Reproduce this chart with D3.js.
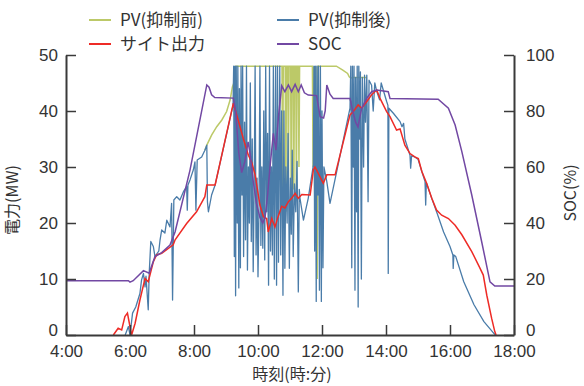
<!DOCTYPE html>
<html>
<head>
<meta charset="utf-8">
<script src="https://cdn.jsdelivr.net/npm/d3@7"></script>
<style>
  body { margin: 0; background: #fff; }
  svg { font-family: "Noto Sans CJK JP", "Noto Sans", sans-serif; }
  .tick text { font-size: 17px; fill: #333; }
</style>
</head>
<body>
<div id="chart"></div>
<script>
// [hour, value]
const pvBefore = [
  [8.34, 33.0], [8.4, 33.9], [8.55, 35.7], [8.71, 37.2], [8.87, 38.4], [9.02, 39.9], [9.13, 42], [9.2, 44.3],
  [9.26, 45.2], [9.3, 48], [10.75, 48], [10.77, 25], [10.79, 48], [10.85, 48], [10.87, 22], [10.89, 48],
  [10.93, 48], [10.95, 28], [10.97, 48], [11.02, 48], [11.04, 20], [11.06, 48], [11.1, 48], [11.12, 26],
  [11.14, 48], [11.18, 48], [11.2, 24], [11.22, 48], [11.26, 48], [11.28, 30], [11.3, 48], [11.7, 48],
  [11.72, 30], [11.74, 48], [11.78, 20], [11.8, 48], [11.85, 10], [11.87, 48], [12.45, 48], [12.65, 47.3],
  [12.8, 46.7], [12.85, 46.1], [12.9, 45.9], [13.0, 46], [13.4, 46]
];

const pvAfter = [
  [5.85, 0], [5.95, 1.5], [6.0, 0], [6.08, 3.9], [6.18, 5], [6.31, 7.4], [6.36, 9.8], [6.42, 11], [6.47, 8.6],
  [6.5, 10.5], [6.57, 4.5], [6.6, 11], [6.65, 16.7], [6.73, 15.8], [6.78, 14], [6.9, 15], [6.94, 17],
  [6.99, 18.75], [7.09, 18.2], [7.15, 20.5], [7.25, 19.3], [7.3, 23.5], [7.33, 6.25], [7.37, 24.1],
  [7.46, 24.7], [7.56, 24.1], [7.67, 25.6], [7.77, 26.5], [7.79, 22.3], [7.81, 26.8], [7.875, 27.7],
  [7.98, 29.5], [8.03, 30.9], [8.06, 22.3], [8.1, 31.25], [8.24, 31.8], [8.34, 33], [8.4, 33.9],
  [8.42, 23.8], [8.45, 22], [8.55, 25], [8.66, 26.8], [9.22, 41],
  [9.24, 48], [9.26, 14], [9.28, 48], [9.30, 7], [9.32, 48], [9.35, 20], [9.37, 48], [9.40, 8.4],
  [9.42, 44], [9.45, 12], [9.47, 48], [9.50, 25], [9.52, 48], [9.55, 14], [9.58, 38], [9.61, 17],
  [9.64, 48], [9.67, 11.6], [9.70, 30], [9.73, 20], [9.76, 45], [9.79, 16.7], [9.82, 35], [9.85, 11.3],
  [9.88, 26], [9.91, 48], [9.94, 14.3], [9.97, 28], [10.0, 10.4], [10.03, 22], [10.06, 48], [10.09, 16],
  [10.12, 30], [10.15, 15.5], [10.18, 40], [10.21, 13.4], [10.24, 48], [10.27, 22], [10.30, 36],
  [10.33, 8.9], [10.36, 48], [10.39, 15], [10.42, 30], [10.45, 14.3], [10.48, 48], [10.51, 10],
  [10.55, 48], [10.58, 8.9], [10.61, 48], [10.64, 13], [10.68, 48], [10.71, 14.3], [10.74, 40],
  [10.78, 7.1], [10.81, 40], [10.84, 11.9], [10.87, 30], [10.91, 20], [10.94, 36], [10.98, 11.9],
  [11.01, 28], [11.04, 18], [11.07, 33], [11.10, 14], [11.14, 27], [11.18, 22], [11.22, 31], [11.26, 7.7],
  [11.29, 26], [11.31, 24.5], [11.42, 20.5], [11.57, 24.4], [11.73, 30.4], [11.75, 48], [11.77, 15],
  [11.79, 48], [11.82, 6], [11.84, 48], [11.87, 25], [11.89, 48], [11.92, 8], [11.95, 48], [11.98, 6],
  [12.0, 40], [12.03, 12], [12.06, 30], [12.15, 27.4], [12.25, 23.5], [12.875, 40.5],
  [12.9, 48], [12.93, 12], [12.95, 48], [12.98, 30], [13.0, 48], [13.03, 8], [13.05, 46], [13.08, 22],
  [13.1, 48], [13.13, 5], [13.15, 48], [13.18, 35], [13.2, 47], [13.23, 10], [13.26, 46], [13.3, 30],
  [13.33, 46.4], [13.36, 38], [13.4, 46.4], [13.44, 23.8], [13.47, 45.5], [13.55, 44.6], [13.6, 40],
  [13.65, 45], [13.71, 43.5], [13.8, 42], [13.85, 45], [14.02, 41.7], [14.06, 41], [14.07, 11],
  [14.09, 40.5], [14.23, 39.6], [14.44, 38.1], [14.5, 37.2], [14.55, 37.8], [14.59, 35], [14.75, 32.1],
  [14.77, 29.8], [14.8, 32], [14.9, 31.8], [15.0, 31.4], [15.12, 29.2], [15.22, 27.4], [15.24, 23.2],
  [15.26, 27.2], [15.43, 24.4], [15.6, 21.7], [15.8, 18.4], [16.0, 15.8], [16.09, 14.3], [16.1, 11.9],
  [16.12, 14.3], [16.18, 14], [16.43, 9.5], [16.75, 5.4], [17.06, 2.4], [17.37, 0.3], [17.42, 0]
];

const siteOutput = [
  [5.48, 0], [5.63, 1.2], [5.74, 0.9], [5.84, 3.3], [5.92, 3.9], [5.98, 2.1], [6.05, 0],
  [6.16, 2.1], [6.31, 6.25], [6.47, 10.1], [6.57, 9.5], [6.73, 13.1], [6.83, 14.3], [6.99, 14.6],
  [7.35, 16.1], [7.41, 17], [7.77, 19.9], [8.08, 22], [8.34, 24.7], [8.4, 26.8], [8.66, 26.8],
  [9.23, 41.4], [9.38, 38.4], [9.54, 35.1], [9.7, 32.1], [9.8, 30.9], [9.91, 28.6], [10.06, 23.2],
  [10.17, 21.1], [10.27, 20.8], [10.32, 18.4], [10.43, 20.8], [10.53, 19.3], [10.62, 21], [10.74, 23],
  [10.84, 22.7], [10.95, 23.8], [11.05, 24.4], [11.16, 25.3], [11.26, 24.4], [11.37, 25.1], [11.63, 25],
  [11.73, 29.5], [11.78, 30], [11.88, 28.9], [12.04, 27.1], [12.15, 28.6], [12.41, 28.6], [12.875, 39.3],
  [12.98, 39.9], [13.13, 41.1], [13.24, 40.5], [13.4, 41.7], [13.55, 42.9], [13.71, 43.75], [13.81, 42.3],
  [14.02, 39.9], [14.125, 39], [14.33, 36.6], [14.44, 36.8], [14.59, 33.9], [14.75, 32.4], [14.9, 31.8],
  [15.01, 31.5], [15.12, 29.2], [15.27, 27.1], [15.43, 24.4], [15.58, 22.3], [15.74, 21.4], [15.95, 20.8],
  [16.16, 19.6], [16.37, 17.9], [16.68, 14.9], [16.94, 11.9], [17.04, 10.7], [17.15, 7.1], [17.3, 3.0],
  [17.4, 0.6], [17.44, 0]
];

const soc = [
  [4.0, 19.4], [5.95, 19.4], [6.0, 18.9], [6.1, 19.4], [6.42, 23.0], [6.6, 22.1], [6.78, 28.0],
  [6.99, 29.4], [7.25, 32.1], [7.41, 36.9], [7.875, 58.9], [8.4, 89.3], [8.47, 88.5], [8.55, 85.8],
  [8.65, 84.8], [9.23, 84.6], [9.3, 80], [9.4, 65], [9.49, 58], [9.59, 62], [9.69, 69], [9.75, 65],
  [9.85, 55], [9.95, 47], [10.06, 42], [10.15, 40], [10.22, 42], [10.3, 50], [10.375, 60], [10.48, 72],
  [10.56, 66], [10.64, 78], [10.74, 89], [10.84, 86.9], [10.95, 89.3], [11.05, 86.9], [11.16, 89.5],
  [11.26, 86.9], [11.35, 89.3], [11.45, 86.5], [11.57, 85.7], [11.83, 85.5], [11.94, 78], [12.05, 77.5],
  [12.1, 80], [12.15, 89.3], [12.25, 86], [12.35, 84.5], [12.875, 84.5], [12.97, 79.6], [13.05, 76],
  [13.125, 74.3], [13.24, 81], [13.4, 84.6], [13.55, 86.9], [13.71, 87.5], [14.07, 86.9], [14.125, 84.5],
  [15.63, 84.2], [15.95, 81], [16.16, 75], [16.37, 65.5], [16.68, 50], [16.99, 33.3], [17.25, 19],
  [17.4, 17.5], [18.0, 17.5]
];

const hourTicks = [4, 6, 8, 10, 12, 14, 16, 18];
const mwTicks = [0, 10, 20, 30, 40, 50];
const socTicks = [0, 20, 40, 60, 80, 100];

const legendItems = [
  { name: 'PV(抑制前)', color: '#bcc968', col: 0, row: 0 },
  { name: 'PV(抑制後)', color: '#4a7ca9', col: 1, row: 0 },
  { name: 'サイト出力', color: '#ee2b26', col: 0, row: 1 },
  { name: 'SOC', color: '#7248a3', col: 1, row: 1 }
];

const width = 584, height = 386;
const margin = { top: 55, right: 70, bottom: 51, left: 66 };

const svg = d3.select('#chart').append('svg')
  .attr('width', width).attr('height', height);

const x = d3.scaleLinear().domain([4, 18]).range([margin.left, width - margin.right]);
const yMW = d3.scaleLinear().domain([0, 50]).range([height - margin.bottom, margin.top]);
const ySOC = d3.scaleLinear().domain([0, 100]).range([height - margin.bottom, margin.top]);

const lineMW = d3.line().x(d => x(d[0])).y(d => yMW(d[1]));
const lineSOC = d3.line().x(d => x(d[0])).y(d => ySOC(d[1]));

const plot = svg.append('g');
plot.append('path').datum(pvBefore).attr('d', lineMW)
  .attr('fill', 'none').attr('stroke', legendItems[0].color).attr('stroke-width', 1.5);
plot.append('path').datum(pvAfter).attr('d', lineMW)
  .attr('fill', 'none').attr('stroke', legendItems[1].color).attr('stroke-width', 1.3)
  .attr('stroke-linejoin', 'round');
plot.append('path').datum(siteOutput).attr('d', lineMW)
  .attr('fill', 'none').attr('stroke', legendItems[2].color).attr('stroke-width', 1.5);
plot.append('path').datum(soc).attr('d', lineSOC)
  .attr('fill', 'none').attr('stroke', legendItems[3].color).attr('stroke-width', 1.5);

// axes, ticks inward
const xAxis = svg.append('g')
  .attr('transform', `translate(0,${height - margin.bottom})`)
  .call(d3.axisBottom(x).tickValues(hourTicks).tickFormat(d => d + ':00')
    .tickSizeInner(-10).tickSizeOuter(0).tickPadding(10));
const leftAxis = svg.append('g')
  .attr('transform', `translate(${margin.left},0)`)
  .call(d3.axisLeft(yMW).tickValues(mwTicks).tickSizeInner(-10).tickSizeOuter(0).tickPadding(8));
const rightAxis = svg.append('g')
  .attr('transform', `translate(${width - margin.right},0)`)
  .call(d3.axisRight(ySOC).tickValues(socTicks).tickSizeInner(-10).tickSizeOuter(0).tickPadding(12));

[xAxis, leftAxis, rightAxis].forEach(a => {
  a.selectAll('path, line').attr('stroke', '#3a3a3a').attr('stroke-width', 1.5);
  a.select('.domain').attr('stroke-width', 2);
});
// the zero labels sit a little above their tick, clear of the time labels
[leftAxis, rightAxis].forEach(a => {
  a.selectAll('.tick text').attr('dy', d => d === 0 ? '0.05em' : '0.3em');
});

svg.append('text')
  .attr('transform', `translate(18,${(margin.top + height - margin.bottom) / 2 + 5}) rotate(-90)`)
  .attr('text-anchor', 'middle').attr('font-size', 16).attr('fill', '#333')
  .text('電力(MW)');
svg.append('text')
  .attr('transform', `translate(576,${(margin.top + height - margin.bottom) / 2 - 2}) rotate(-90)`)
  .attr('text-anchor', 'middle').attr('font-size', 16).attr('fill', '#333')
  .text('SOC(%)');
svg.append('text')
  .attr('x', 292).attr('y', 380)
  .attr('text-anchor', 'middle').attr('font-size', 16).attr('fill', '#333')
  .text('時刻(時:分)');

const legend = svg.append('g');
legendItems.forEach(item => {
  const lx = 89 + item.col * 188;
  const ly = 20 + item.row * 24;
  legend.append('line')
    .attr('x1', lx).attr('x2', lx + 22).attr('y1', ly).attr('y2', ly)
    .attr('stroke', item.color).attr('stroke-width', 2);
  legend.append('text')
    .attr('x', lx + 31).attr('y', ly + 6)
    .attr('font-size', 17).attr('fill', '#333')
    .text(item.name);
});
</script>
</body>
</html>
